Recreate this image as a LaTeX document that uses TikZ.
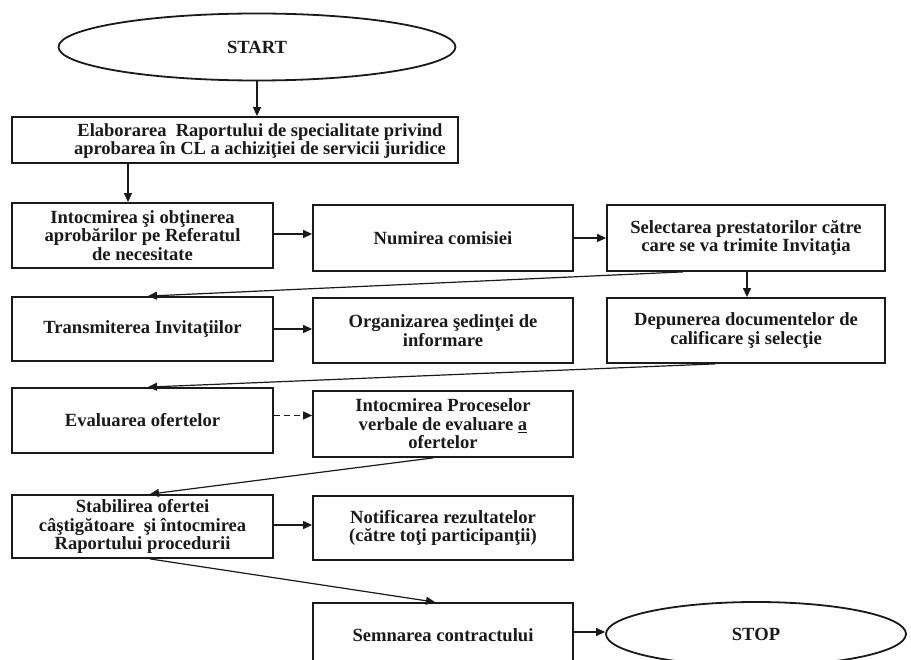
\documentclass[tikz,border=0pt]{standalone}
\usepackage{fontspec}
\setmainfont{Liberation Serif}
\usetikzlibrary{arrows.meta,shapes.geometric}
\definecolor{ink}{HTML}{1A1A1A}
\begin{document}
\begin{tikzpicture}[x=1pt,y=-1pt,
  txtfont/.style={font=\bfseries\fontsize{18.6}{18.6}\selectfont, text=ink},
  box/.style={draw=ink, line width=1.8pt, rectangle, inner sep=0pt, align=center, txtfont},
  oval/.style={draw=ink, line width=1.8pt, ellipse, inner sep=0pt, txtfont},
  plain/.style={inner sep=0pt, align=center, txtfont},
  arr/.style={draw=ink, line width=1.2pt, -{Triangle[length=9pt,width=8pt]}},
  darr/.style={arr, dash pattern=on 6pt off 4pt}
]
\useasboundingbox[fill=white] (0,0) rectangle (911,660);

% start / stop
\node[oval, minimum width=397pt, minimum height=67pt] (start) at (257,47) {START};
\node[oval, minimum width=300pt, minimum height=64pt] (stop) at (756,634) {STOP};

% first wide box
\node[box, minimum width=446pt, minimum height=46pt] (e1) at (235,140) {};
\node[plain, font=\bfseries\fontsize{18.5}{18.5}\selectfont] (e1t) at (260,141) {Elaborarea\ \ Raportului de specialitate privind\\aprobarea în CL a achiziţiei de servicii juridice};

% row 2
\node[box, minimum width=261pt, minimum height=65pt] (A) at (142.5,235.5) {Intocmirea şi obţinerea\\aprobărilor pe Referatul\\de necesitate};
\node[box, minimum width=260pt, minimum height=66pt] (B) at (443,238) {Numirea comisiei};
\node[box, minimum width=278pt, minimum height=66pt] (C) at (746,238) {Selectarea prestatorilor către\\care se va trimite Invitaţia};

% row 3
\node[box, minimum width=261pt, minimum height=64pt] (trans) at (142.5,329) {Transmiterea Invitaţiilor};
\node[box, minimum width=260pt, minimum height=65pt] (org) at (443,330.5) {Organizarea şedinţei de\\informare};
\node[box, minimum width=278pt, minimum height=65pt] (dep) at (746,330.5) {Depunerea documentelor de\\calificare şi selecţie};

% row 4
\node[box, minimum width=261pt, minimum height=65pt] (eval) at (142.5,420.5) {Evaluarea ofertelor};
\node[box, minimum width=260pt, minimum height=66pt] (proc) at (443,424) {Intocmirea Proceselor\\verbale de evaluare \underline{a}\\ofertelor};

% row 5
\node[box, minimum width=261pt, minimum height=63pt] (stab) at (142.5,526.5) {Stabilirea ofertei\\câştigătoare\ \ şi întocmirea\\Raportului procedurii};
\node[box, minimum width=260pt, minimum height=64pt] (notif) at (443,528) {Notificarea rezultatelor\\(către toţi participanţii)};

% row 6
\node[box, minimum width=260pt, minimum height=64pt] (semn) at (443,635) {Semnarea contractului};

% connectors
\draw[arr] (start.south) -- (start.south |- e1.north);
\draw[arr] ([xshift=-107pt]e1.south) -- ([xshift=-14.5pt]A.north);
\draw[arr] ([yshift=1.5pt]A.east) -- ([yshift=1.5pt]A.east -| B.west);
\draw[arr] (B.east) -- (B.east -| C.west);
\draw[arr] ([xshift=1pt]C.south) -- ([xshift=1pt]C.south |- dep.north);
\draw[arr] ([xshift=-63pt]C.south) -- ([xshift=5.5pt]trans.north);
\draw[arr] (trans.east) -- (trans.east -| org.west);
\draw[arr] ([xshift=-31pt]dep.south) -- ([xshift=5.5pt]eval.north);
\draw[darr] ([yshift=5pt]eval.east) -- ([yshift=5pt]eval.east -| proc.west);
\draw[arr] ([xshift=-10pt]proc.south) -- ([xshift=7.5pt]stab.north);
\draw[arr] ([yshift=1.5pt]stab.east) -- ([yshift=1.5pt]stab.east -| notif.west);
\draw[arr] ([xshift=7.5pt]stab.south) -- ([xshift=-8pt]semn.north);
\draw[arr] ([yshift=3pt]semn.east) -- ([yshift=3pt]semn.east -| stop.west);
\end{tikzpicture}
\end{document}
